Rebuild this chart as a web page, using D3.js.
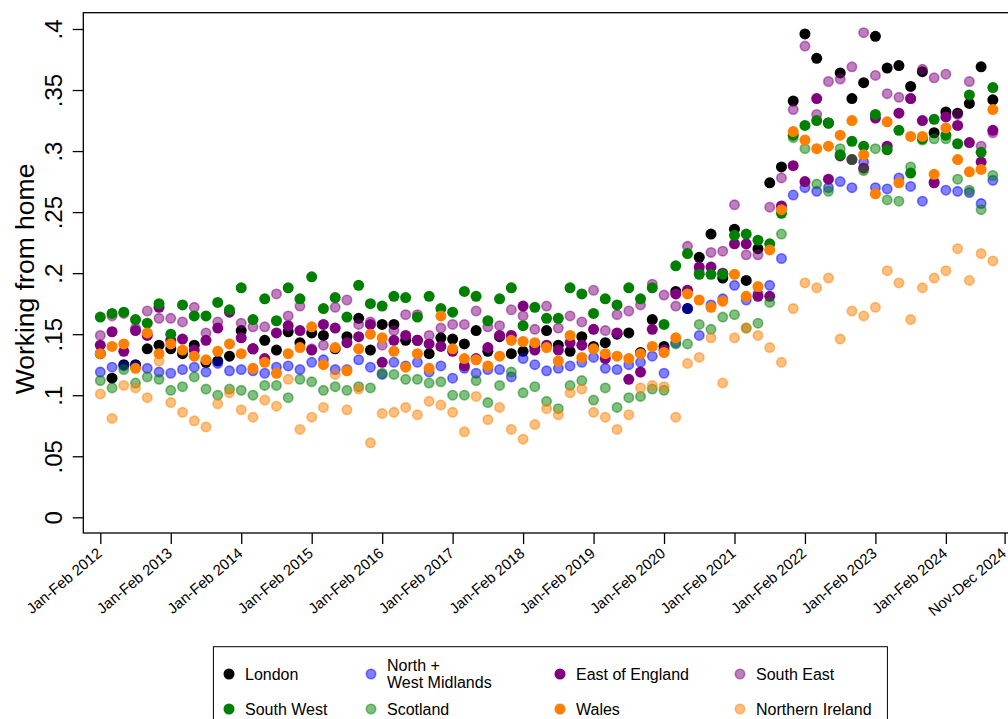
<!DOCTYPE html>
<html>
<head>
<meta charset="utf-8">
<script src="https://cdn.jsdelivr.net/npm/d3@7"></script>
<style>
  html, body { margin: 0; padding: 0; background: #fff; }
  svg { display: block; font-family: "Liberation Sans", Arial, Helvetica, sans-serif; }
</style>
</head>
<body>
<svg id="chart" width="1008" height="719"></svg>
<script>
// Share of workers working from home, by region, bimonthly periods Jan-Feb 2012 .. Sep-Oct 2024
const years = [2012, 2013, 2014, 2015, 2016, 2017, 2018, 2019, 2020, 2021, 2022, 2023, 2024];
const monthPairs = ["Jan-Feb", "Mar-Apr", "May-Jun", "Jul-Aug", "Sep-Oct", "Nov-Dec"];
const periods = years.flatMap(yr => monthPairs.map(m => `${m} ${yr}`));
const xTickLabels = ["Jan-Feb 2012", "Jan-Feb 2013", "Jan-Feb 2014", "Jan-Feb 2015", "Jan-Feb 2016",
  "Jan-Feb 2017", "Jan-Feb 2018", "Jan-Feb 2019", "Jan-Feb 2020", "Jan-Feb 2021", "Jan-Feb 2022",
  "Jan-Feb 2023", "Jan-Feb 2024", "Nov-Dec 2024"];
const yTicks = [0, 0.05, 0.1, 0.15, 0.2, 0.25, 0.3, 0.35, 0.4];

const london = [.134,.114,.125,.125,.138,.141,.138,.134,.141,.127,.128,.132,.153,.138,.145,.137,.152,.143,.151,.149,
  .138,.148,.163,.137,.158,.158,.145,.145,.134,.147,.146,.142,.153,.136,.148,.134,.136,.140,.153,.141,
  .136,.148,.140,.143,.150,.151,.135,.162,.140,.185,.171,.213,.232,.196,.236,.194,.220,.274,.287,.341,
  .396,.376,.323,.364,.343,.356,.394,.368,.370,.353,.365,.315,.332,.331,.339,.369,.342];
const northWestMidlands = [.119,.123,.124,.124,.122,.119,.118,.121,.123,.119,.126,.120,.121,.120,.118,.123,.124,.121,.127,.129,
  .121,.121,.129,.123,.117,.127,.124,.127,.119,.124,.114,.122,.118,.121,.121,.115,.130,.125,.120,.122,
  .124,.127,.131,.122,.121,.125,.127,.132,.118,.143,.171,.149,.174,.179,.190,.178,.183,.190,.212,.264,
  .270,.267,.270,.275,.270,.291,.270,.269,.278,.271,.259,.275,.268,.267,.266,.257,.276];
const eastOfEngland = [.141,.152,.136,.153,.149,.172,.145,.146,.137,.145,.155,.168,.147,.138,.130,.151,.157,.153,.137,.158,
  .155,.143,.148,.158,.127,.145,.149,.145,.142,.140,.136,.124,.130,.139,.149,.149,.173,.137,.141,.137,
  .143,.141,.154,.130,.151,.113,.119,.154,.137,.183,.186,.205,.205,.200,.224,.224,.181,.181,.255,.288,
  .275,.343,.277,.296,.293,.286,.327,.304,.331,.343,.325,.274,.328,.321,.307,.291,.317];
const southEast = [.149,.165,.167,.155,.169,.163,.163,.160,.172,.151,.160,.169,.159,.156,.156,.183,.165,.173,.138,.141,
  .172,.178,.158,.160,.141,.153,.166,.166,.149,.155,.158,.158,.169,.156,.157,.170,.165,.154,.173,.155,
  .165,.160,.186,.153,.166,.169,.174,.191,.182,.173,.222,.201,.217,.218,.256,.215,.215,.254,.278,.334,
  .386,.330,.357,.359,.369,.397,.362,.347,.344,.343,.367,.360,.363,.330,.357,.304,.315];
const southWest = [.164,.167,.168,.162,.159,.175,.150,.174,.165,.165,.176,.170,.188,.162,.179,.161,.188,.179,.197,.171,
  .180,.164,.190,.175,.173,.181,.180,.164,.181,.171,.168,.185,.181,.161,.179,.188,.157,.172,.163,.163,
  .188,.183,.167,.179,.174,.188,.179,.188,.158,.206,.216,.199,.199,.199,.231,.232,.227,.224,.249,.313,
  .321,.325,.323,.297,.308,.304,.330,.301,.317,.282,.310,.326,.313,.306,.346,.299,.352];
const scotland = [.112,.106,.121,.110,.115,.113,.104,.107,.115,.105,.100,.105,.104,.100,.108,.108,.098,.113,.111,.104,
  .107,.104,.107,.106,.118,.117,.113,.113,.110,.111,.100,.100,.112,.094,.108,.119,.102,.107,.095,.089,
  .108,.112,.096,.106,.090,.098,.099,.105,.104,.142,.142,.158,.154,.164,.166,.155,.159,.176,.232,.311,
  .302,.273,.267,.302,.293,.284,.302,.260,.259,.287,.309,.310,.310,.277,.268,.252,.280];
const wales = [.134,.140,.142,.122,.151,.134,.142,.137,.132,.129,.136,.142,.134,.122,.127,.118,.134,.139,.156,.125,
  .139,.120,.138,.150,.147,.136,.123,.134,.122,.165,.138,.130,.129,.124,.132,.145,.144,.143,.139,.128,
  .149,.131,.138,.134,.132,.130,.134,.140,.135,.147,.183,.178,.172,.177,.199,.181,.189,.219,.252,.316,
  .309,.302,.304,.313,.325,.297,.265,.324,.274,.312,.312,.281,.319,.293,.283,.285,.334];
const northernIreland = [.101,.081,.108,.106,.098,.128,.094,.086,.079,.074,.093,.102,.088,.082,.096,.091,.113,.072,.082,.090,
  .117,.088,.105,.061,.085,.086,.090,.084,.095,.092,.086,.070,.099,.080,.090,.072,.064,.076,.089,.084,
  .102,.105,.086,.082,.072,.084,.106,.108,.107,.082,.126,.131,.147,.110,.147,.155,.149,.139,.127,.171,
  .192,.188,.196,.146,.169,.165,.172,.202,.192,.162,.188,.196,.202,.220,.194,.216,.210];

const seriesNames = ["London", "North +\nWest Midlands", "East of England", "South East",
  "South West", "Scotland", "Wales", "Northern Ireland"];
const seriesValues = [london, northWestMidlands, eastOfEngland, southEast,
  southWest, scotland, wales, northernIreland];
const seriesColors = ["#000000", "#0000ff", "#800080", "#800080",
  "#008000", "#008000", "#ff7f00", "#ff7f00"];
const seriesFaded = [false, true, false, true, false, true, false, true];

const svg = d3.select("#chart");
const plot = { left: 83.3, right: 1021.6, top: 12.7, bottom: 533 };

const x = d3.scaleLinear().domain([0, periods.length - 1]).range([100.3, 1004.6]);
const y = d3.scaleLinear().domain([0, 0.4]).range([517.3, 29]);

// plot frame
svg.append("rect")
  .attr("x", plot.left).attr("y", plot.top)
  .attr("width", plot.right - plot.left).attr("height", plot.bottom - plot.top)
  .attr("fill", "#fff").attr("stroke", "#000").attr("stroke-width", 1.3);

// markers, drawn in legend order
const marks = svg.append("g");
seriesValues.forEach((vals, s) => {
  const g = marks.append("g");
  g.selectAll("circle")
    .data(vals)
    .join("circle")
    .attr("cx", (d, i) => x(i))
    .attr("cy", d => y(d))
    .attr("r", seriesFaded[s] ? 4.7 : 5.5)
    .attr("fill", seriesColors[s])
    .attr("fill-opacity", seriesFaded[s] ? 0.5 : 1)
    .attr("stroke", seriesFaded[s] ? seriesColors[s] : "none")
    .attr("stroke-opacity", 0.5)
    .attr("stroke-width", 1.6);
});

// y axis
const fmt = v => v === 0 ? "0" : d3.format(".2~f")(v).replace(/^0/, "");
const yAxis = svg.append("g")
  .attr("transform", `translate(${plot.left},0)`)
  .call(d3.axisLeft(y).tickValues(yTicks).tickFormat(fmt).tickSize(10.6).tickPadding(0));
yAxis.select(".domain").remove();
yAxis.selectAll(".tick line").attr("stroke", "#000").attr("stroke-width", 1.3);
yAxis.selectAll(".tick text")
  .attr("x", null).attr("dy", null)
  .attr("transform", "translate(-21,0) rotate(-90)")
  .attr("text-anchor", "middle")
  .attr("font-size", 24)
  .attr("fill", "#000");

// x axis
const tickIdx = xTickLabels.map(l => periods.indexOf(l));
const xAxis = svg.append("g")
  .attr("transform", `translate(0,${plot.bottom})`)
  .call(d3.axisBottom(x).tickValues(tickIdx).tickFormat(i => periods[i]).tickSize(11).tickPadding(0));
xAxis.select(".domain").remove();
xAxis.selectAll(".tick line").attr("stroke", "#000").attr("stroke-width", 1.3);
xAxis.selectAll(".tick text")
  .attr("y", null).attr("dy", null)
  .attr("transform", "translate(2,22) rotate(-40)")
  .attr("text-anchor", "end")
  .attr("font-size", 15)
  .attr("fill", "#000");

// axis title
svg.append("text")
  .attr("transform", `translate(34,279) rotate(-90)`)
  .attr("text-anchor", "middle")
  .attr("font-size", 26.5)
  .text("Working from home");

// legend
const leg = svg.append("g");
leg.append("rect")
  .attr("x", 213.4).attr("y", 646.7).attr("width", 674).attr("height", 100)
  .attr("fill", "#fff").attr("stroke", "#000").attr("stroke-width", 1);
const colX = [229, 371, 560, 740];
const rowY = [674, 709];
seriesNames.forEach((name, s) => {
  const cx = colX[s % 4], cy = rowY[Math.floor(s / 4)];
  leg.append("circle")
    .attr("cx", cx).attr("cy", cy)
    .attr("r", seriesFaded[s] ? 4.7 : 5.5)
    .attr("fill", seriesColors[s])
    .attr("fill-opacity", seriesFaded[s] ? 0.5 : 1)
    .attr("stroke", seriesFaded[s] ? seriesColors[s] : "none")
    .attr("stroke-opacity", 0.5)
    .attr("stroke-width", 1.6);
  const lines = name.split("\n");
  const t = leg.append("text")
    .attr("x", cx + 16).attr("font-size", 16).attr("fill", "#000");
  lines.forEach((ln, k) => {
    t.append("tspan")
      .attr("x", cx + 16)
      .attr("y", cy + 5.5 + (k - (lines.length - 1) / 2) * 17)
      .text(ln);
  });
});
</script>
</body>
</html>
